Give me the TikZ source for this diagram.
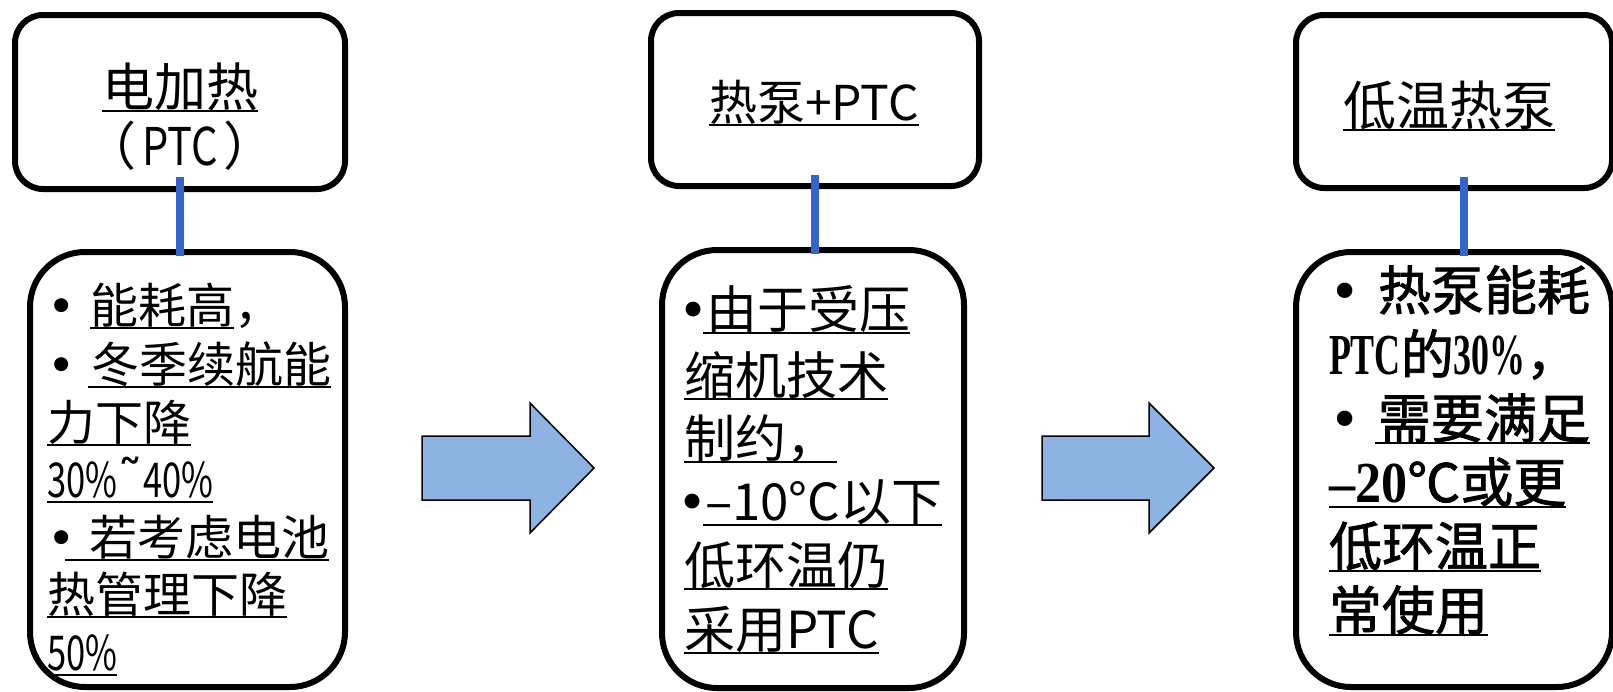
\documentclass[tikz,border=0pt]{standalone}
\usepackage{fontspec}
\usepackage{graphicx}
\setmainfont{Noto Sans CJK SC}
\newfontfamily\cjkm[FakeBold=1.5]{Noto Sans CJK SC}
\newfontfamily\serifl{Liberation Serif}
\newfontfamily\dejavu{DejaVu Sans}
\newcommand{\myul}[1]{\setbox0\hbox{#1}\rlap{\rule[-0.12em]{\wd0}{0.045em}}\box0}
\newcommand{\nar}[1]{\scalebox{0.72}[1]{#1}}
\newcommand{\blt}{{\dejavu •}}
\newcommand{\lat}[2]{{\serifl\bfseries\fontsize{58}{58}\selectfont\scalebox{#1}[1]{#2}}}
\definecolor{arrowblue}{RGB}{141,179,226}
\definecolor{linkblue}{RGB}{51,102,204}
\tikzset{
  box/.style={draw=black, line width=6pt, fill=white, inner sep=0pt, outer sep=0pt},
  tbox/.style={box, rounded corners=28pt},
  bbox/.style={box, rounded corners=55pt},
  link/.style={draw=linkblue, line width=8pt, line cap=rect},
  bigarrow/.style={fill=arrowblue, draw=black, line width=1.5pt, line join=miter},
  ln/.style={anchor=base west, inner sep=0pt, outer sep=0pt, font=\fontsize{#1}{#1}\selectfont},
  lnb/.style={anchor=base west, inner sep=0pt, outer sep=0pt, font=\cjkm\fontsize{#1}{#1}\selectfont},
  ttl/.style={anchor=base, inner sep=0pt, outer sep=0pt, font=\fontsize{#1}{#1}\selectfont}
}
\begin{document}
\begin{tikzpicture}[x=1pt,y=-1pt]
\fill[white] (0,0) rectangle (1613,691);
\useasboundingbox (0,0) rectangle (1613,691);

% boxes
\node[tbox, minimum width=330pt, minimum height=174pt] (t1) at (180,102) {};
\node[bbox, minimum width=315pt, minimum height=435pt] (b1) at (187.5,469.5) {};
\node[tbox, minimum width=328pt, minimum height=173pt] (t2) at (815,99.5) {};
\node[bbox, minimum width=302pt, minimum height=438pt] (b2) at (813,469) {};
\node[tbox, minimum width=316pt, minimum height=173pt] (t3) at (1454,101.5) {};
\node[bbox, minimum width=316pt, minimum height=435pt] (b3) at (1454,469.5) {};

% connectors
\coordinate (k1) at (180,181);
\coordinate (k2) at (815,179);
\coordinate (k3) at (1464,181);
\draw[link] (k1) -- (k1 |- b1.north);
\draw[link] (k2) -- (k2 |- b2.north);
\draw[link] (k3) -- (k3 |- b3.north);

% block arrows
\draw[bigarrow] (422,436) -- (530,436) -- (530,403) -- (594,468) -- (530,533) -- (530,500) -- (422,500) -- cycle;
\draw[bigarrow] (1042,436) -- (1149,436) -- (1149,403) -- (1214,468) -- (1149,533) -- (1149,500) -- (1042,500) -- cycle;

% titles
\node[ttl=52] (h1) at (180,106) {\myul{电加热}};
\node[ttl=52] (h1b) at (180,165) {（\hspace{6pt}\scalebox{0.8}[1]{PTC}\hspace{6pt}）};
\node[ttl=48] (h2) at (814,120) {\myul{热泵+PTC}};
\node[ttl=53] (h3) at (1449,125) {\myul{低温热泵}};

% box 1 body
\node[ln=48] (a1) at (47,323) {\makebox[43pt][l]{\blt}\myul{能耗高}，};
\node[ln=48] (a2) at (47,382) {\makebox[41pt][l]{\blt}\myul{\hspace{3pt}冬季续航能}};
\node[ln=48] (a3) at (47,440) {\myul{力下降}};
\node[ln=48] (a4) at (47,497) {\myul{\nar{30\%}{\dejavu\fontsize{52}{52}\selectfont\char"02DC}\nar{40\%}}};
\node[ln=48] (a5) at (47,555) {\makebox[18pt][l]{\blt}\myul{\hspace{24pt}若考虑电池}};
\node[ln=48] (a6) at (47,612) {\myul{热管理下降}};
\node[ln=48] (a7) at (47,670) {\myul{\nar{50\%}}};

% box 2 body
\node[ln=51] (c1) at (684,328) {\makebox[19pt][l]{\hspace{-6pt}\blt}\myul{\hspace{3pt}由于受压}};
\node[ln=51] (c2) at (684,394) {\myul{缩机技术}};
\node[ln=51] (c3) at (684,457) {\myul{制约，}};
\node[ln=51] (c4) at (684,520) {\makebox[19pt][l]{\hspace{-7pt}\blt}\myul{\hspace{2pt}–10°C以下}};
\node[ln=51] (c5) at (684,584) {\myul{低环温仍}};
\node[ln=51] (c6) at (684,648) {\myul{采用PTC}};

% box 3 body
\node[lnb=53] (d1) at (1329,310) {\makebox[49pt][l]{\blt}热泵能耗};
\node[lnb=53] (d2) at (1329,374) {\lat{0.62}{PTC}的\lat{0.62}{30\%}，};
\node[lnb=53] (d3) at (1329,438) {\makebox[46pt][l]{\blt}\myul{\hspace{3pt}需要满足}};
\node[lnb=53] (d4) at (1329,502) {\myul{\lat{0.9}{–20}℃或更}};
\node[lnb=53] (d5) at (1329,566) {\myul{低环温正}};
\node[lnb=53] (d6) at (1329,630) {\myul{常使用}};
\end{tikzpicture}
\end{document}
